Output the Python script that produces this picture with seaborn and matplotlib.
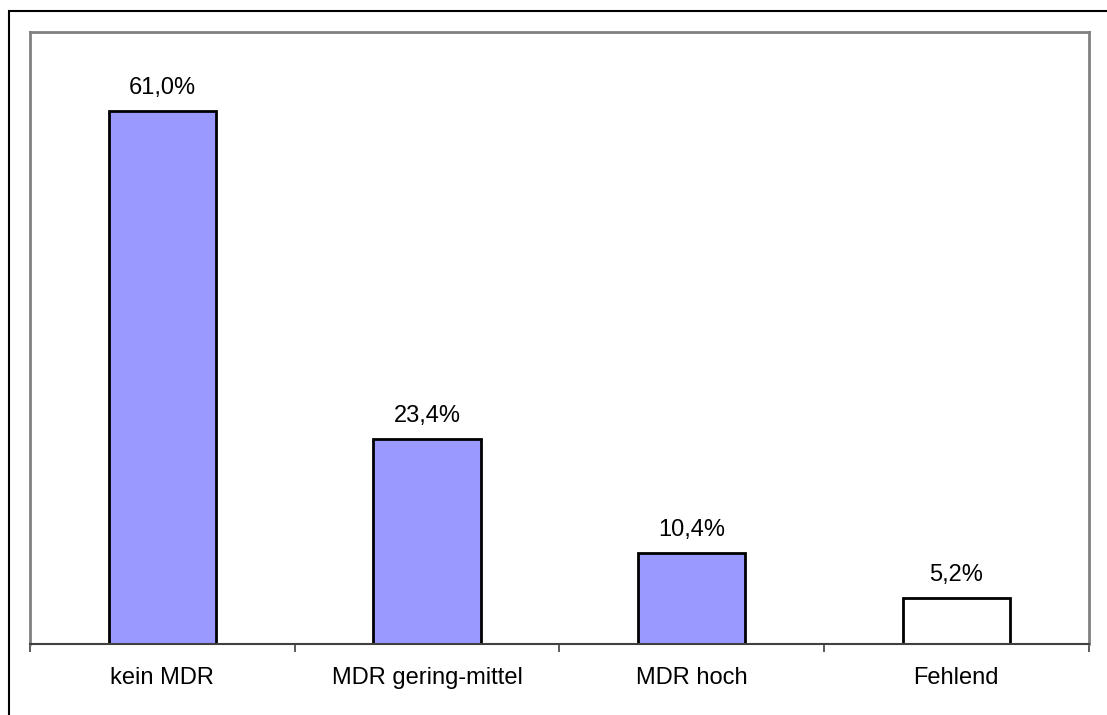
import matplotlib
matplotlib.use("Agg")
import matplotlib.pyplot as plt
from matplotlib.patches import Rectangle
import seaborn as sns
import pandas as pd

categories = ["kein MDR", "MDR gering-mittel", "MDR hoch", "Fehlend"]
shares = [61.0, 23.4, 10.4, 5.2]
bar_colors = ["#9999FF", "#9999FF", "#9999FF", "#FFFFFF"]

df = pd.DataFrame({"Kategorie": categories, "Anteil": shares})

sns.set_style("white")
plt.rcParams["font.family"] = ["Liberation Sans", "DejaVu Sans"]

W, H = 1107, 715
fig = plt.figure(figsize=(W / 100, H / 100), dpi=100)
fig.patch.set_facecolor("white")

# outer frame (only left and top edges fall inside the canvas)
fig.patches.append(Rectangle((9 / W, -0.1), 1.2, 1.1 - 11 / H,
                             transform=fig.transFigure, fill=False,
                             edgecolor="black", linewidth=1.5))

left, right = 30 / W, 1088.5 / W
bottom, top = 1 - 643.5 / H, 1 - 32 / H
ax = fig.add_axes([left, bottom, right - left, top - bottom])

sns.barplot(data=df, x="Kategorie", y="Anteil", hue="Kategorie",
            palette=bar_colors, width=0.405, edgecolor="black",
            linewidth=2.0, legend=False, ax=ax, saturation=1)

ax.set_xlim(-0.5, len(categories) - 0.5)
ax.set_ylim(0, 70)
ax.set_xlabel("")
ax.set_ylabel("")
ax.set_yticks([])

for i, v in enumerate(shares):
    ax.annotate(f"{v:.1f}%".replace(".", ","), (i, v),
                xytext=(0, 12.2), textcoords="offset points",
                ha="center", va="baseline", fontsize=17, color="black")

for side in ["left", "top", "right"]:
    ax.spines[side].set_color("#808080")
    ax.spines[side].set_linewidth(2.0)
ax.spines["bottom"].set_color("#404040")
ax.spines["bottom"].set_linewidth(1.5)

# category boundary ticks
ax.set_xticks([i - 0.5 for i in range(len(categories) + 1)], minor=True)
ax.tick_params(axis="x", which="minor", length=6, width=1.2,
               color="#404040", direction="out", bottom=True)
ax.tick_params(axis="x", which="major", length=0, labelsize=17,
               pad=17, labelcolor="black")

fig.savefig("out.png", dpi=100, facecolor="white")
